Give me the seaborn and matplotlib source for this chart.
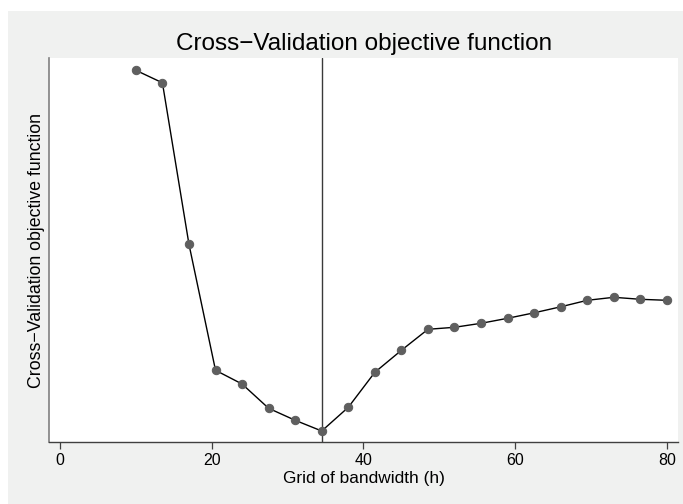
import matplotlib
matplotlib.use("Agg")
import matplotlib.pyplot as plt
import seaborn as sns
import pandas as pd
from matplotlib.patches import Rectangle

# bandwidth grid and CV objective (arbitrary units)
bandwidth = [10, 13.5, 17, 20.5, 24, 27.5, 31, 34.5, 38, 41.5, 45,
             48.5, 52, 55.5, 59, 62.5, 66, 69.5, 73, 76.5, 80]
cv_value = [3.72, 3.595, 1.98, 0.72, 0.583, 0.34, 0.22, 0.113, 0.35, 0.70, 0.92,
            1.13, 1.15, 1.19, 1.24, 1.295, 1.355, 1.42, 1.45, 1.43, 1.42]
h_opt = 34.5
x_ticks = [0, 20, 40, 60, 80]

df = pd.DataFrame({"h": bandwidth, "cv": cv_value})

sns.set_style("white")
plt.rcParams["font.family"] = ["Liberation Sans", "DejaVu Sans"]
plt.rcParams["text.color"] = "black"
plt.rcParams["axes.labelcolor"] = "black"
plt.rcParams["xtick.color"] = "black"

fig = plt.figure(figsize=(6.83, 5.04), dpi=100)
fig.patch.set_facecolor("white")
# Stata-like light grey graph region
bg = Rectangle((8 / 683, 0), 1 - 8 / 683, 1 - 11 / 504,
               transform=fig.transFigure, facecolor="#f0f1f0",
               edgecolor="none", zorder=-10)
fig.add_artist(bg)

ax = fig.add_axes([49 / 683, 1 - 442.3 / 504, (678.3 - 49) / 683, (442.3 - 58.3) / 504])
ax.set_facecolor("white")

sns.lineplot(data=df, x="h", y="cv", ax=ax, color="black", linewidth=1.0,
             marker="o", markersize=6, markerfacecolor="#5f5f5f",
             markeredgecolor="#5f5f5f", zorder=3)
ax.axvline(h_opt, color="#3a3a3a", linewidth=1.0, zorder=2)

ax.set_xlim(-1.45, 81.5)
ax.set_ylim(0, 3.84)
ax.set_xticks(x_ticks)
ax.set_yticks([])
ax.tick_params(axis="x", direction="out", length=5, width=0.9, color="#404040",
               labelcolor="black", labelsize=11.5, pad=3, bottom=True)

for side in ["top", "right"]:
    ax.spines[side].set_visible(False)
ax.spines["left"].set_color("#808080")
ax.spines["left"].set_linewidth(1.2)
ax.spines["bottom"].set_color("#404040")
ax.spines["bottom"].set_linewidth(1.0)

ax.set_title("Cross\u2212Validation objective function", fontsize=17.5, pad=6,
             color="black")
ax.set_xlabel("Grid of bandwidth (h)", fontsize=12.4, labelpad=2)
ax.set_ylabel("Cross\u2212Validation objective function", fontsize=12.8, labelpad=3)

fig.savefig("out.png", dpi=100)
